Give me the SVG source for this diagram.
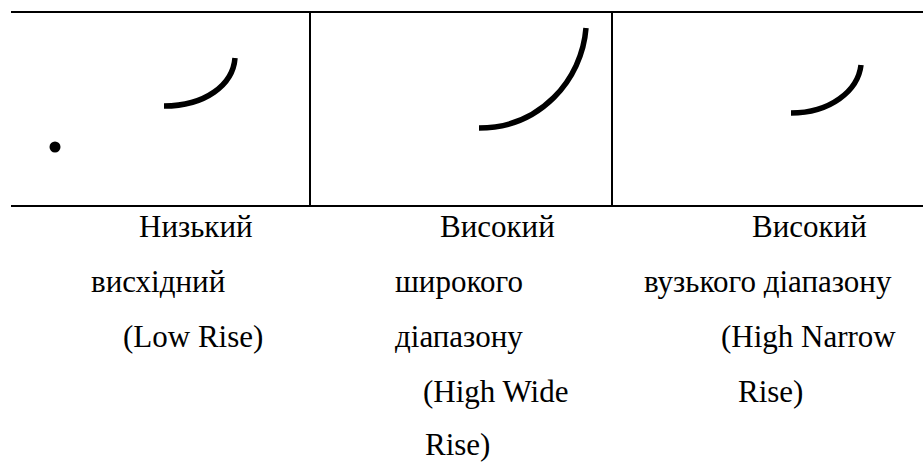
<svg xmlns="http://www.w3.org/2000/svg" width="923" height="462" viewBox="0 0 923 462">
<style>
.grid{stroke:#000;stroke-width:2;fill:none}
.curve{stroke:#000;stroke-width:5.5;fill:none;stroke-linecap:butt}
</style>
<rect width="923" height="462" fill="#fff"/>
<g id="table">
<line class="grid" x1="11" y1="12" x2="923" y2="12"/>
<line class="grid" x1="11" y1="206" x2="923" y2="206"/>
<line class="grid" x1="310" y1="12" x2="310" y2="206"/>
<line class="grid" x1="612" y1="12" x2="612" y2="206"/>
</g>
<g font-family="'Liberation Serif', 'DejaVu Serif', serif" font-size="31" fill="#000">
<g id="low-rise">
<circle cx="55" cy="147" r="5.5" fill="#000"/>
<path class="curve" d="M164,106 C205,106 233,85 235,58"/>
<text x="139" y="237">Низький</text>
<text x="91" y="292">висхідний</text>
<text x="123" y="346.5">(Low Rise)</text>
</g>
<g id="high-wide-rise">
<path class="curve" d="M479,128 C540,128 582,80 586,28"/>
<text x="440" y="237">Високий</text>
<text x="395" y="292">широкого</text>
<text x="395" y="346.5">діапазону</text>
<text x="423" y="402">(High Wide</text>
<text x="425" y="455">Rise)</text>
</g>
<g id="high-narrow-rise">
<path class="curve" d="M791,113 C830,113 858,91 861,65"/>
<text x="752" y="237">Високий</text>
<text x="644" y="292">вузького діапазону</text>
<text x="721" y="346.5">(High Narrow</text>
<text x="738" y="402">Rise)</text>
</g>
</g>
</svg>
